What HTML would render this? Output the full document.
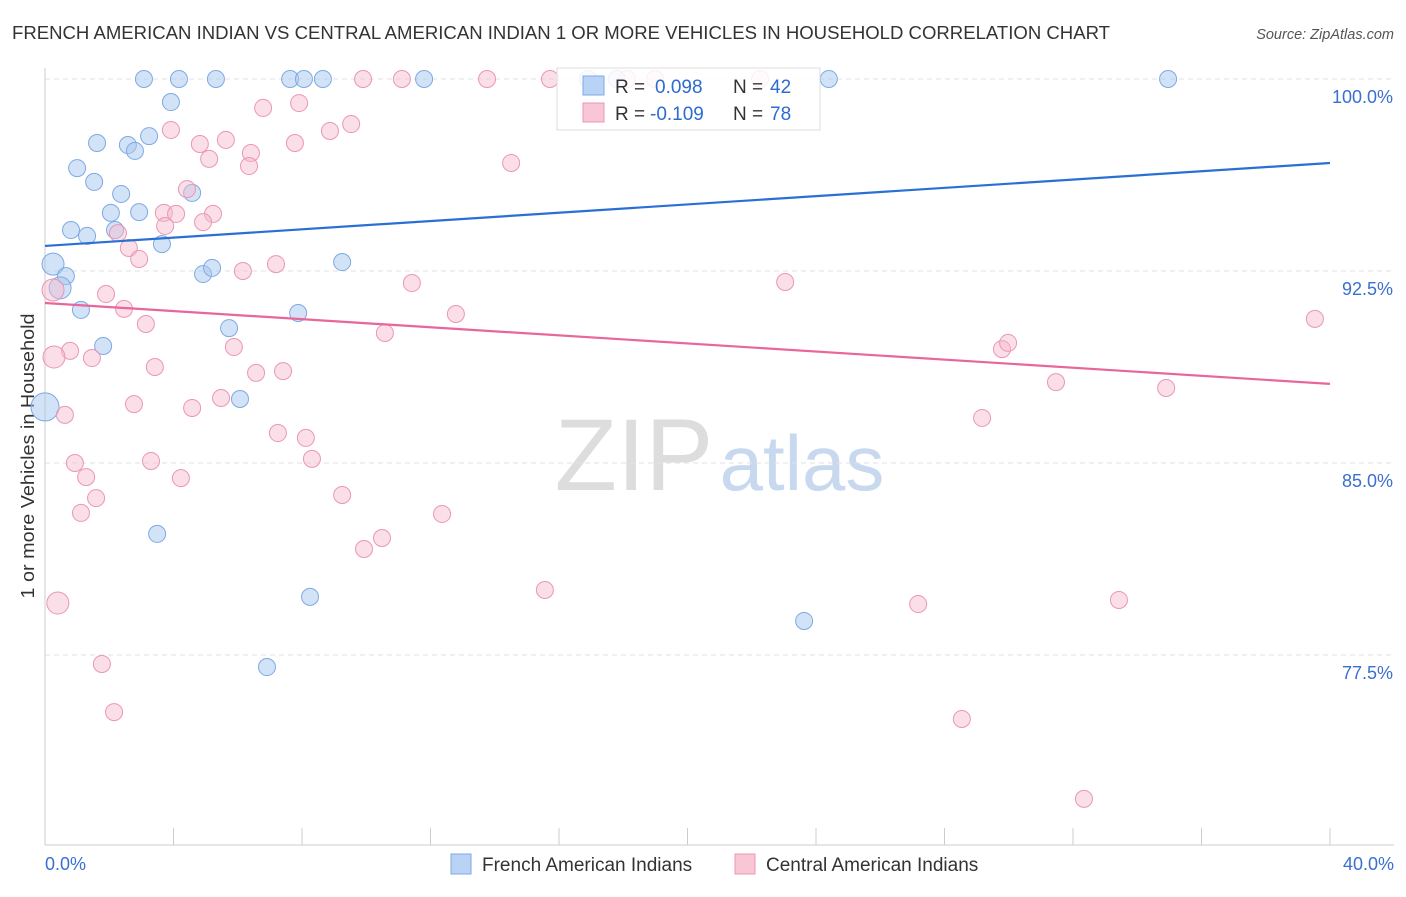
<!DOCTYPE html>
<html><head><meta charset="utf-8"><style>
body{margin:0;background:#fff;font-family:"Liberation Sans",sans-serif;}
svg text{font-family:"Liberation Sans",sans-serif;}
</style></head><body>
<svg id="chart" width="1406" height="892" xmlns="http://www.w3.org/2000/svg">
<text x="12" y="39" font-size="18" fill="#333" textLength="1098" lengthAdjust="spacingAndGlyphs">FRENCH AMERICAN INDIAN VS CENTRAL AMERICAN INDIAN 1 OR MORE VEHICLES IN HOUSEHOLD CORRELATION CHART</text>
<text x="1394" y="39" font-size="14.5" fill="#555" text-anchor="end" font-style="italic">Source: ZipAtlas.com</text>
<text transform="translate(34,456) rotate(-90)" font-size="18" fill="#333" text-anchor="middle" textLength="285" lengthAdjust="spacingAndGlyphs">1 or more Vehicles in Household</text>
<g>
<text x="634" y="490" font-size="102" fill="#ddd" text-anchor="middle" font-family="Liberation Serif">ZIP</text>
<text x="802" y="490" font-size="78" fill="#c8d8ee" text-anchor="middle">atlas</text>
</g>
<g id="grid"></g><g id="axes"></g><g id="marks"></g><g id="lines"></g>
<g>
<rect x="557" y="68" width="263" height="62" fill="rgba(255,255,255,0.85)" stroke="#ddd"/>
<rect x="583" y="76" width="21" height="19" fill="#b8d3f5" stroke="#7ea9e3"/>
<text x="615" y="93" font-size="19" fill="#333">R =</text>
<text x="655" y="93" font-size="19" fill="#2d6bd0">0.098</text>
<text x="733" y="93" font-size="19" fill="#333">N =</text>
<text x="770" y="93" font-size="19" fill="#2d6bd0">42</text>
<rect x="583" y="103" width="21" height="19" fill="#f9c6d6" stroke="#ec96b2"/>
<text x="615" y="120" font-size="19" fill="#333">R =</text>
<text x="650" y="120" font-size="19" fill="#2d6bd0">-0.109</text>
<text x="733" y="120" font-size="19" fill="#333">N =</text>
<text x="770" y="120" font-size="19" fill="#2d6bd0">78</text>
</g>
<g>
<rect x="451" y="854" width="20" height="20" fill="#b8d3f5" stroke="#7ea9e3"/>
<text x="482" y="871" font-size="19" fill="#333">French American Indians</text>
<rect x="735" y="854" width="20" height="20" fill="#f9c6d6" stroke="#ec96b2"/>
<text x="766" y="871" font-size="19" fill="#333">Central American Indians</text>
</g>
</svg>
<script>
const xTicks=[0,4,8,12,16,20,24,28,32,36,40];
const yGrid=[100,92.5,85,77.5];
const yTickLabels=["100.0%","92.5%","85.0%","77.5%"];
const xEndLabels=["0.0%","40.0%"];
const blueX=[3.08,4.17,5.32,7.63,8.06,8.65,11.8,16.9,17.8,24.4,34.96,3.92,1.62,2.58,2.80,3.24,1.0,1.53,2.37,4.58,2.05,2.93,0.81,1.31,2.18,3.64,0.25,0.65,0.47,4.92,5.2,9.25,1.12,7.88,5.73,1.81,6.07,0,3.49,8.25,23.63,6.91];
const blueY=[100,100,100,100,100,100,100,100,100,100,100,99.1,97.5,97.42,97.19,97.77,96.52,95.98,95.51,95.55,94.77,94.8,94.1,93.87,94.1,93.55,92.77,92.3,91.84,92.38,92.62,92.85,90.98,90.86,90.27,89.57,87.5,87.19,82.23,79.77,78.83,77.03];
const pinkX=[9.9,11.11,13.76,15.72,18.12,18.99,22.26,6.79,7.91,9.53,8.87,3.92,4.82,5.63,7.78,5.11,6.41,6.35,14.51,4.42,3.7,4.08,5.23,4.92,3.74,2.27,2.61,2.93,6.16,7.19,11.42,23.04,0.25,1.9,2.46,3.14,12.79,10.58,39.53,5.88,0.78,1.46,0.28,29.79,29.98,3.42,6.57,7.41,31.47,34.9,5.48,2.77,4.58,0.62,29.17,7.25,8.12,8.31,0.93,3.3,1.28,4.23,1.59,9.25,1.12,12.36,10.49,9.93,15.56,0.4,27.18,33.43,1.77,2.15,28.54,32.34];
const pinkY=[100,100,100,100,100,100,100,98.87,99.06,98.24,97.97,98.01,97.46,97.62,97.5,96.88,97.11,96.6,96.72,95.7,94.77,94.73,94.73,94.41,94.26,93.98,93.4,92.97,92.5,92.77,92.03,92.07,91.76,91.6,91.02,90.43,90.82,90.08,90.63,89.53,89.38,89.1,89.14,89.45,89.69,88.75,88.52,88.59,88.16,87.93,87.54,87.3,87.15,86.88,86.76,86.17,85.98,85.16,85.0,85.08,84.45,84.41,83.63,83.75,83.05,83.01,82.07,81.64,80.04,79.53,79.49,79.65,77.15,75.27,75.0,71.88];
const blueTrend=[93.48,96.72];
const pinkTrend=[91.25,88.09];
const NS="http://www.w3.org/2000/svg";
function sx(v){return 45+v*1285/40;}
function sy(v){return 79+(100-v)*192/7.5;}
function mk(tag,attrs,parent){const e=document.createElementNS(NS,tag);for(const k in attrs)e.setAttribute(k,attrs[k]);document.getElementById(parent).appendChild(e);return e;}
yGrid.forEach((g,i)=>{
  const l=mk('line',{x1:45,x2:1394,y1:sy(g),y2:sy(g),stroke:'#e2e2e2','stroke-dasharray':'5,4'},'grid');
  
  
  const t=mk('text',{x:1393,y:sy(g)+24,'font-size':18,fill:'#3a6fd0','text-anchor':'end'},'axes');
  t.textContent=yTickLabels[i];
  
  
});
const ax=mk('line',{x1:45,x2:1394,y1:845,y2:845,stroke:'#ccc'},'axes');


const ay=mk('line',{x1:45,x2:45,y1:68,y2:845,stroke:'#ccc'},'axes');


xTicks.forEach(v=>{
  const t=mk('line',{x1:sx(v),x2:sx(v),y1:828,y2:845,stroke:'#ccc'},'axes');
  
  
});
[[0,'start',45],[40,'end',1394]].forEach((d,i)=>{
  const t=mk('text',{x:d[2],y:870,'font-size':18,fill:'#3a6fd0','text-anchor':d[1]},'axes');
  t.textContent=xEndLabels[i];
  
  
});
function rad(x){return x<0.1?14:(x<0.5?11:8.5);}
blueX.forEach((x,i)=>{
  const c=mk('circle',{cx:sx(x),cy:sy(blueY[i]),r:rad(x),fill:'rgba(168,200,240,0.5)',stroke:'#7ea9e3','stroke-width':1},'marks');
  
  
});
pinkX.forEach((x,i)=>{
  const c=mk('circle',{cx:sx(x),cy:sy(pinkY[i]),r:rad(x),fill:'rgba(245,184,203,0.45)',stroke:'#ec96b2','stroke-width':1},'marks');
  
  
});
const bl=mk('line',{x1:sx(0),x2:sx(40),y1:sy(blueTrend[0]),y2:sy(blueTrend[1]),stroke:'#2a6fd6','stroke-width':2.2},'lines');


const pl=mk('line',{x1:sx(0),x2:sx(40),y1:sy(pinkTrend[0]),y2:sy(pinkTrend[1]),stroke:'#e8669a','stroke-width':2.2},'lines');


</script>
</body></html>
